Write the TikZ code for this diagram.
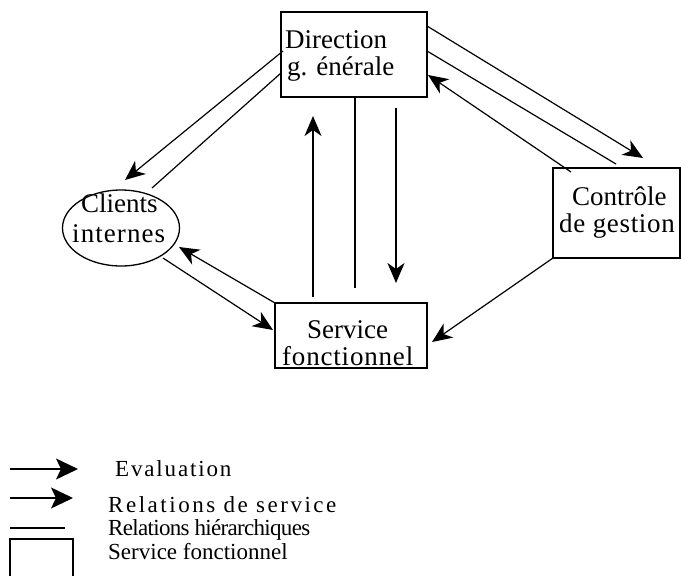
\documentclass[tikz,border=0pt]{standalone}
\usepackage{fontspec}
\setmainfont{Liberation Serif}
\usetikzlibrary{arrows.meta,shapes.geometric}
\begin{document}
\begin{tikzpicture}[x=1pt,y=-1pt,
 box/.style={draw,line width=1.3pt,inner sep=0pt},
 lbl/.style={anchor=base west,inner sep=0pt,font=\fontsize{27}{30}\selectfont},
 leg/.style={anchor=base west,inner sep=0pt,font=\fontsize{23}{27}\selectfont},
 arr/.style={line width=1.2pt,-{Stealth[length=20pt,width=17pt,inset=6pt]}},
 legarr/.style={line width=1.3pt,-{Stealth[length=22pt,width=21pt,inset=5pt]}},
 hier/.style={line width=1.2pt}]
\useasboundingbox (0,0) rectangle (681,576);
% boxes
\node[box,minimum width=146pt,minimum height=85pt] (dir) at (354,54.5) {};
\node[box,minimum width=127pt,minimum height=90pt] (ctl) at (616.5,213) {};
\node[box,minimum width=152pt,minimum height=65pt] (srv) at (351,335.5) {};
\node[box,ellipse,minimum width=117pt,minimum height=76pt] (cli) at (121,228) {};
% texts
\node[lbl] (dirt1) at (285,48) {Direction};
\node[lbl] (dirt2) at (287,75) {g. énérale};
\node[lbl] (clit1) at (81,212) {Clients};
\node[lbl] (clit2) at (72,242) {\addfontfeature{LetterSpace=4}internes};
\node[lbl] (ctlt1) at (572,205) {Contrôle};
\node[lbl] (ctlt2) at (559,232) {\addfontfeature{LetterSpace=2.5}de gestion};
\node[lbl] (srvt1) at (307,338) {Service};
\node[lbl] (srvt2) at (282,365) {\addfontfeature{LetterSpace=3}fonctionnel};
% connector end points
\coordinate (a1) at (283,51);  \coordinate (b1) at (125,180);
\coordinate (a2) at (281,73);  \coordinate (b2) at (152,188);
\coordinate (a3) at (427,26);  \coordinate (b3) at (643,158);
\coordinate (a4) at (427,51);  \coordinate (b4) at (616,164);
\coordinate (a5) at (571,172); \coordinate (b5) at (428,75);
\coordinate (a6) at (313,297); \coordinate (b6) at (313,116);
\coordinate (a7) at (355,97);  \coordinate (b7) at (355,288);
\coordinate (a8) at (396,108); \coordinate (b8) at (396,283);
\coordinate (a9) at (275,303); \coordinate (b9) at (179,247);
\coordinate (a10) at (163,258); \coordinate (b10) at (273,330);
\coordinate (a11) at (553,258); \coordinate (b11) at (432,342);
\draw[arr] (a1) -- (b1);
\draw[hier] (a2) -- (b2);
\draw[arr] (a3) -- (b3);
\draw[hier] (a4) -- (b4);
\draw[arr] (a5) -- (b5);
\draw[arr] (a6) -- (b6);
\draw[hier] (a7) -- (b7);
\draw[arr] (a8) -- (b8);
\draw[arr] (a9) -- (b9);
\draw[arr] (a10) -- (b10);
\draw[arr] (a11) -- (b11);
% legend
\coordinate (l1a) at (10,469); \coordinate (l1b) at (78,469);
\coordinate (l2a) at (10,498); \coordinate (l2b) at (73,498);
\coordinate (l3a) at (10,528); \coordinate (l3b) at (65,528);
\draw[legarr] (l1a) -- (l1b);
\draw[legarr] (l2a) -- (l2b);
\draw[hier] (l3a) -- (l3b);
\draw[line width=1.3pt] (10,578) -- (10,539) -- (73,539) -- (73,578);
\node[leg] (lt1) at (115,476) {\addfontfeature{LetterSpace=8}Evaluation};
\node[leg] (lt2) at (108,512) {\addfontfeature{LetterSpace=11}Relations de service};
\node[leg] (lt3) at (108,535) {\addfontfeature{LetterSpace=-3}Relations hiérarchiques};
\node[leg] (lt4) at (108,559) {Service fonctionnel};
\end{tikzpicture}
\end{document}
